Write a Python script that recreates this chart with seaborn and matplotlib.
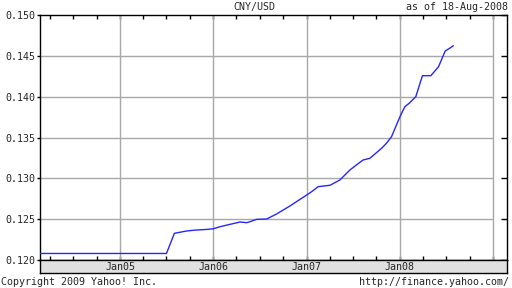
import matplotlib
matplotlib.use("Agg")
import matplotlib.pyplot as plt
import matplotlib.dates as mdates
import seaborn as sns
import pandas as pd
import numpy as np

# ---- data ----
dates = ["2004-02-22", "2005-07-01", "2005-08-01", "2005-09-18", "2005-10-14",
         "2005-12-12", "2006-01-01", "2006-01-27", "2006-03-07", "2006-04-15",
         "2006-05-11", "2006-05-24", "2006-06-19", "2006-07-28", "2006-09-05",
         "2006-10-27", "2007-01-01", "2007-01-20", "2007-02-15", "2007-04-02",
         "2007-05-11", "2007-06-19", "2007-07-28", "2007-08-10", "2007-09-05",
         "2007-10-21", "2007-11-09", "2007-11-29", "2008-01-01", "2008-01-20",
         "2008-02-06", "2008-03-03", "2008-03-29", "2008-05-01", "2008-05-31",
         "2008-06-26", "2008-07-13", "2008-07-28"]
rates = [0.12080, 0.12080, 0.12327, 0.12355, 0.12364,
         0.12376, 0.12383, 0.12408, 0.12437, 0.12465,
         0.12457, 0.12469, 0.12498, 0.12502, 0.12563,
         0.12661, 0.12796, 0.12836, 0.12898, 0.12915,
         0.12980, 0.13102, 0.13196, 0.13225, 0.13245,
         0.13368, 0.13429, 0.13510, 0.13755, 0.13877,
         0.13919, 0.14000, 0.14257, 0.14257, 0.14367,
         0.14559, 0.14592, 0.14624]
y_ticks = [0.120, 0.125, 0.130, 0.135, 0.140, 0.145, 0.150]
y_tick_labels = ["0.120", "0.125", "0.130", "0.135", "0.140", "0.145", "0.150"]
year_ticks = ["2005-01-01", "2006-01-01", "2007-01-01", "2008-01-01", "2009-01-01"]
year_labels = ["Jan05", "Jan06", "Jan07", "Jan08", ""]
x_start, x_end = "2004-02-22", "2009-02-23"
title = "CNY/USD"
asof = "as of 18-Aug-2008"
copyright_txt = "Copyright 2009 Yahoo! Inc."
url = "http://finance.yahoo.com/"

df = pd.DataFrame({"date": pd.to_datetime(dates), "rate": rates})

sns.set_style("white")
plt.rcParams["font.family"] = ["DejaVu Sans Mono"]
FS = 7.2

W, H = 512, 288
fig = plt.figure(figsize=(W / 100, H / 100), dpi=100)

L, R, T, B = 40, 507, 15, 260
ax = fig.add_axes([L / W, 1 - B / H, (R - L) / W, (B - T) / H])
ax.set_facecolor("white")

xmin, xmax = pd.Timestamp(x_start), pd.Timestamp(x_end)
ax.set_xlim(xmin, xmax)
ax.set_ylim(0.120, 0.150)

grid_c = "#a8a8a8"
yt = pd.to_datetime(year_ticks)
for d in yt:
    ax.axvline(d, color=grid_c, lw=1, zorder=1)
for v in y_ticks[1:-1]:
    ax.hlines(v, xmin, yt[-1], color=grid_c, lw=1, zorder=1)

sns.lineplot(data=df, x="date", y="rate", ax=ax, color="#2626ff",
             linewidth=1, zorder=3)
ax.set_xlabel("")
ax.set_ylabel("")

for s in ax.spines.values():
    s.set_color("black")
    s.set_linewidth(1)

ax.xaxis.set_major_locator(mdates.YearLocator())
ax.xaxis.set_minor_locator(mdates.MonthLocator(bymonth=[1, 4, 7, 10]))
ax.tick_params(axis="x", which="both", direction="in", top=True, bottom=True,
               labelbottom=False, length=3, width=1, color="black")
ax.set_yticks(y_ticks)
ax.set_yticklabels(y_tick_labels, fontsize=FS)
ax.tick_params(axis="y", which="major", direction="out", left=True, right=False,
               length=2, width=1, pad=1.5, color="black")

ax2 = ax.twinx()
ax2.set_ylim(0.120, 0.150)
ax2.set_yticks(y_ticks)
ax2.tick_params(axis="y", direction="in", right=True, labelright=False,
                length=4, width=1, color="black")
for s in ax2.spines.values():
    s.set_visible(False)

# date band
bt = 273
bax = fig.add_axes([L / W, 1 - bt / H, (R - L) / W, (bt - B) / H])
bax.set_facecolor("#e0e0e0")
bax.set_xlim(xmin, xmax)
bax.set_ylim(0, 1)
bax.set_yticks([])
bax.set_xticks([])
for s in bax.spines.values():
    s.set_color("black")
    s.set_linewidth(1)
for d, lab in zip(yt, year_labels):
    if lab:
        bax.text(d, 0.45, lab, ha="center", va="center", fontsize=FS)

fig.text(254 / W, 1 - 7 / H, title, ha="center", va="center", fontsize=FS)
fig.text(508 / W, 1 - 7 / H, asof, ha="right", va="center", fontsize=FS)
fig.text(1 / W, 1 - 282 / H, copyright_txt, ha="left", va="center", fontsize=FS)
fig.text(509 / W, 1 - 282 / H, url, ha="right", va="center", fontsize=FS)

fig.savefig("out.png", dpi=100)
